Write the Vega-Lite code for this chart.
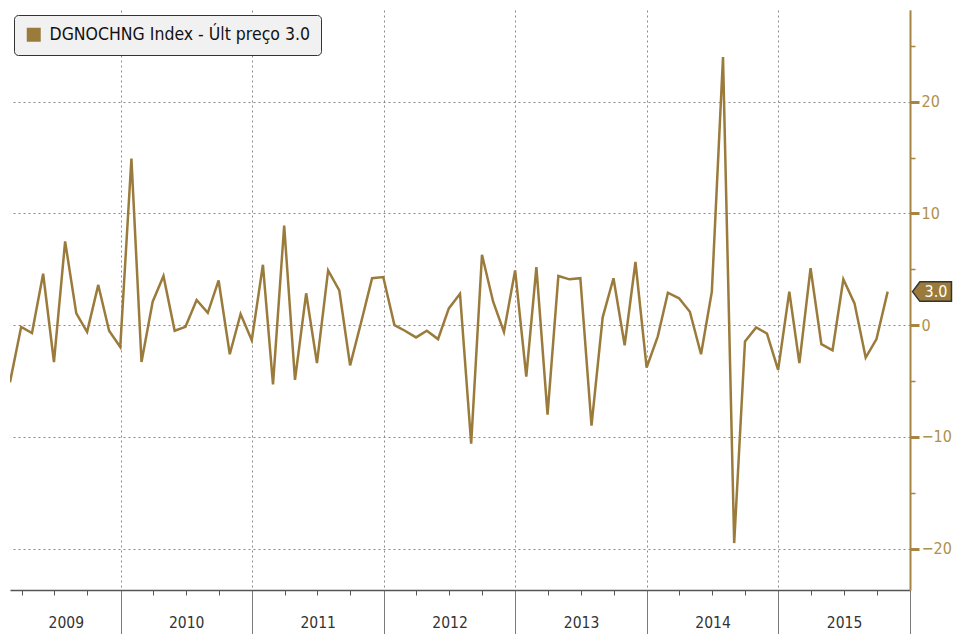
{
  "$schema": "https://vega.github.io/schema/vega-lite/v6.json",
  "width": 900,
  "height": 580,
  "autosize": {"type": "none"},
  "padding": {"left": 10, "top": 10, "right": 44, "bottom": 44},
  "background": "white",
  "config": {"view": {"stroke": null}, "font": "DejaVu Sans Condensed"},
  "datasets": {
    "dg": [
      {"date": "2009-02-28", "value": -5.1},
      {"date": "2009-03-31", "value": -0.15},
      {"date": "2009-04-30", "value": -0.7},
      {"date": "2009-05-31", "value": 4.6},
      {"date": "2009-06-30", "value": -3.3},
      {"date": "2009-07-31", "value": 7.5},
      {"date": "2009-08-31", "value": 1.05},
      {"date": "2009-09-30", "value": -0.6},
      {"date": "2009-10-31", "value": 3.6},
      {"date": "2009-11-30", "value": -0.5},
      {"date": "2009-12-31", "value": -1.95},
      {"date": "2010-01-31", "value": 14.9},
      {"date": "2010-02-28", "value": -3.3},
      {"date": "2010-03-31", "value": 2.1},
      {"date": "2010-04-30", "value": 4.4},
      {"date": "2010-05-31", "value": -0.5},
      {"date": "2010-06-30", "value": -0.15},
      {"date": "2010-07-31", "value": 2.25},
      {"date": "2010-08-31", "value": 1.1},
      {"date": "2010-09-30", "value": 4.0},
      {"date": "2010-10-31", "value": -2.6},
      {"date": "2010-11-30", "value": 1.0},
      {"date": "2010-12-31", "value": -1.35},
      {"date": "2011-01-31", "value": 5.4},
      {"date": "2011-02-28", "value": -5.3},
      {"date": "2011-03-31", "value": 8.9},
      {"date": "2011-04-30", "value": -4.9},
      {"date": "2011-05-31", "value": 2.85},
      {"date": "2011-06-30", "value": -3.4},
      {"date": "2011-07-31", "value": 4.9},
      {"date": "2011-08-31", "value": 3.1},
      {"date": "2011-09-30", "value": -3.6},
      {"date": "2011-10-31", "value": 0.3},
      {"date": "2011-11-30", "value": 4.2},
      {"date": "2011-12-31", "value": 4.3},
      {"date": "2012-01-31", "value": 0.0},
      {"date": "2012-02-29", "value": -0.5},
      {"date": "2012-03-31", "value": -1.1},
      {"date": "2012-04-30", "value": -0.5},
      {"date": "2012-05-31", "value": -1.25},
      {"date": "2012-06-30", "value": 1.5},
      {"date": "2012-07-31", "value": 2.8},
      {"date": "2012-08-31", "value": -10.6},
      {"date": "2012-09-30", "value": 6.3},
      {"date": "2012-10-31", "value": 2.1},
      {"date": "2012-11-30", "value": -0.6},
      {"date": "2012-12-31", "value": 4.9},
      {"date": "2013-01-31", "value": -4.6},
      {"date": "2013-02-28", "value": 5.2},
      {"date": "2013-03-31", "value": -8.0},
      {"date": "2013-04-30", "value": 4.4},
      {"date": "2013-05-31", "value": 4.1},
      {"date": "2013-06-30", "value": 4.2},
      {"date": "2013-07-31", "value": -9.0},
      {"date": "2013-08-31", "value": 0.7},
      {"date": "2013-09-30", "value": 4.2},
      {"date": "2013-10-31", "value": -1.8},
      {"date": "2013-11-30", "value": 5.65},
      {"date": "2013-12-31", "value": -3.8},
      {"date": "2014-01-31", "value": -1.0},
      {"date": "2014-02-28", "value": 2.9},
      {"date": "2014-03-31", "value": 2.4},
      {"date": "2014-04-30", "value": 1.2},
      {"date": "2014-05-31", "value": -2.6},
      {"date": "2014-06-30", "value": 3.0},
      {"date": "2014-07-31", "value": 24.0},
      {"date": "2014-08-31", "value": -19.5},
      {"date": "2014-09-30", "value": -1.45},
      {"date": "2014-10-31", "value": -0.2},
      {"date": "2014-11-30", "value": -0.75},
      {"date": "2014-12-31", "value": -4.0},
      {"date": "2015-01-31", "value": 3.0},
      {"date": "2015-02-28", "value": -3.4},
      {"date": "2015-03-31", "value": 5.1},
      {"date": "2015-04-30", "value": -1.7},
      {"date": "2015-05-31", "value": -2.25},
      {"date": "2015-06-30", "value": 4.1},
      {"date": "2015-07-31", "value": 1.95},
      {"date": "2015-08-31", "value": -2.9},
      {"date": "2015-09-30", "value": -1.25},
      {"date": "2015-10-31", "value": 3.0}
    ],
    "tag": [{"date": "2016-03-02", "value": 3.0, "label": "3.0"}]
  },
  "layer": [
    {
      "data": {"name": "dg"},
      "mark": {"type": "line", "strokeWidth": 2.5, "clip": true},
      "encoding": {
        "x": {
          "field": "date", "type": "temporal",
          "scale": {"domain": [{"year": 2009, "month": 2, "date": 28, "utc": true}, {"year": 2016, "month": 1, "date": 1, "utc": true}]},
          "axis": {
            "orient": "bottom", "title": null, "labels": false,
            "values": [
              {"year": 2010, "month": 1, "date": 1, "utc": true},
              {"year": 2011, "month": 1, "date": 1, "utc": true},
              {"year": 2012, "month": 1, "date": 1, "utc": true},
              {"year": 2013, "month": 1, "date": 1, "utc": true},
              {"year": 2014, "month": 1, "date": 1, "utc": true},
              {"year": 2015, "month": 1, "date": 1, "utc": true},
              {"year": 2016, "month": 1, "date": 1, "utc": true}
            ],
            "grid": true, "gridDash": [2, 3], "gridColor": "#8a8a8a", "gridWidth": 1,
            "tickSize": 44, "tickColor": "#7a7a7a", "tickWidth": 1,
            "domain": true, "domainColor": "#555555", "domainWidth": 1.5
          }
        },
        "y": {
          "field": "value", "type": "quantitative",
          "scale": {"domain": [-23.7, 28.2], "nice": false, "zero": false},
          "axis": {
            "orient": "right", "title": null,
            "values": [-20, -10, 0, 10, 20],
            "grid": true, "gridDash": [2, 3], "gridColor": "#8a8a8a", "gridWidth": 1,
            "tickColor": "#a5853f", "tickSize": 9, "tickWidth": 3,
            "domainColor": "#a5853f", "domainWidth": 2,
            "labelColor": "#b0904a", "labelFontSize": 16, "labelPadding": 2,
            "labelFont": "DejaVu Sans Condensed"
          }
        },
        "color": {
          "datum": "DGNOCHNG Index - Últ preço 3.0",
          "type": "nominal",
          "scale": {"range": ["#9a7b3c"]},
          "legend": {
            "orient": "none", "legendX": 4, "legendY": 5, "title": null,
            "fillColor": "#f1f1f1", "strokeColor": "#333333", "cornerRadius": 4,
            "padding": 11, "symbolType": "square", "symbolSize": 196,
            "symbolStrokeWidth": 0, "labelFontSize": 17.5, "labelColor": "#111111",
            "labelFont": "DejaVu Sans Condensed", "labelLimit": 0, "labelOffset": 7,
            "encode": {"symbols": {"update": {"fill": {"value": "#9a7b3c"}, "opacity": {"value": 1}, "stroke": {"value": "#9a7b3c"}}}}
          }
        }
      }
    },
    {
      "data": {"name": "tag"},
      "mark": {"type": "point", "filled": true, "shape": "M-1,0 L-0.62,-0.5 L1,-0.5 L1,0.5 L-0.62,0.5 Z", "size": 1521, "fill": "#9a7b3c", "stroke": "#333333", "strokeWidth": 1.5, "opacity": 1},
      "encoding": {
        "x": {
          "field": "date", "type": "temporal",
          "scale": {"domain": [{"year": 2009, "month": 2, "date": 28, "utc": true}, {"year": 2016, "month": 1, "date": 1, "utc": true}]},
          "axis": {
            "orient": "bottom", "title": null, "labels": false, "grid": false, "domain": false,
            "values": [
              {"year": 2009, "month": 4, "date": 1, "utc": true}, {"year": 2009, "month": 7, "date": 1, "utc": true}, {"year": 2009, "month": 10, "date": 1, "utc": true},
              {"year": 2010, "month": 4, "date": 1, "utc": true}, {"year": 2010, "month": 7, "date": 1, "utc": true}, {"year": 2010, "month": 10, "date": 1, "utc": true},
              {"year": 2011, "month": 4, "date": 1, "utc": true}, {"year": 2011, "month": 7, "date": 1, "utc": true}, {"year": 2011, "month": 10, "date": 1, "utc": true},
              {"year": 2012, "month": 4, "date": 1, "utc": true}, {"year": 2012, "month": 7, "date": 1, "utc": true}, {"year": 2012, "month": 10, "date": 1, "utc": true},
              {"year": 2013, "month": 4, "date": 1, "utc": true}, {"year": 2013, "month": 7, "date": 1, "utc": true}, {"year": 2013, "month": 10, "date": 1, "utc": true},
              {"year": 2014, "month": 4, "date": 1, "utc": true}, {"year": 2014, "month": 7, "date": 1, "utc": true}, {"year": 2014, "month": 10, "date": 1, "utc": true},
              {"year": 2015, "month": 4, "date": 1, "utc": true}, {"year": 2015, "month": 7, "date": 1, "utc": true}, {"year": 2015, "month": 10, "date": 1, "utc": true}
            ],
            "tickSize": 5, "tickColor": "#555555", "tickWidth": 1
          }
        },
        "y": {
          "field": "value", "type": "quantitative",
          "scale": {"domain": [-23.7, 28.2], "nice": false, "zero": false},
          "axis": {
            "orient": "right", "title": null, "labels": false, "grid": false, "domain": false,
            "values": [-15, -5, 5, 15, 25],
            "tickColor": "#a5853f", "tickSize": 5, "tickWidth": 1.5
          }
        }
      }
    },
    {
      "data": {"name": "tag"},
      "mark": {"type": "text", "color": "#ffffff", "fontSize": 16, "font": "DejaVu Sans Condensed", "dx": 4, "align": "center", "baseline": "middle"},
      "encoding": {
        "x": {
          "field": "date", "type": "temporal",
          "scale": {"domain": [{"year": 2009, "month": 2, "date": 28, "utc": true}, {"year": 2016, "month": 1, "date": 1, "utc": true}]},
          "axis": {
            "orient": "bottom", "title": null, "ticks": false, "grid": false, "domain": false,
            "format": "%Y",
            "values": [
              {"year": 2009, "month": 8, "date": 2, "utc": true},
              {"year": 2010, "month": 7, "date": 2, "utc": true},
              {"year": 2011, "month": 7, "date": 2, "utc": true},
              {"year": 2012, "month": 7, "date": 2, "utc": true},
              {"year": 2013, "month": 7, "date": 2, "utc": true},
              {"year": 2014, "month": 7, "date": 2, "utc": true},
              {"year": 2015, "month": 7, "date": 2, "utc": true}
            ],
            "labelPadding": 25, "labelFontSize": 15.5, "labelColor": "#333333",
            "labelFont": "DejaVu Sans Condensed", "labelAlign": "center"
          }
        },
        "y": {
          "field": "value", "type": "quantitative",
          "scale": {"domain": [-23.7, 28.2], "nice": false, "zero": false},
          "axis": null
        },
        "text": {"field": "label"}
      }
    }
  ],
  "resolve": {"axis": {"x": "independent", "y": "independent"}}
}
